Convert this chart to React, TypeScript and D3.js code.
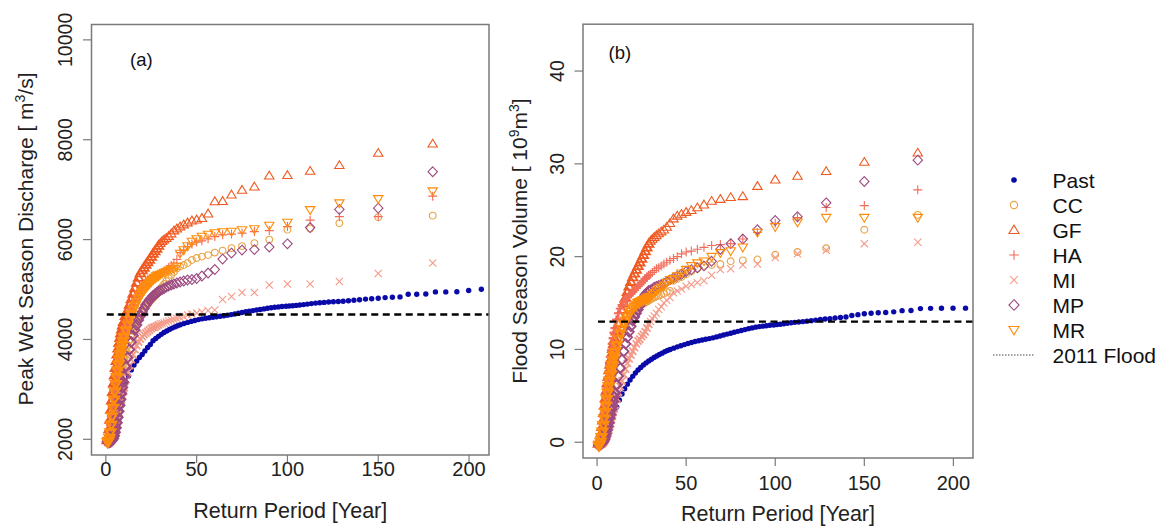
import React, { useRef, useEffect } from 'react';
import * as d3 from 'd3';

const W = 1167;
const H = 526;
const FONT = '"Liberation Sans", Arial, Helvetica, sans-serif';

// return periods [year] of the future scenario points (same plotting positions for all six)
const futurePeriods = [
	180, 150, 128.6, 112.5, 100, 90, 81.8, 75, 69.2, 64.3,
	60, 56.3, 52.9, 50, 47.4, 45, 42.9, 40.9, 39.1, 37.5,
	36, 34.6, 33.3, 32.1, 31, 30, 29, 28, 27, 26,
	25, 24, 23, 22, 21, 20, 19, 18, 17, 16,
	15, 14, 13, 12, 11, 10, 9.5, 9, 8.5, 8,
	7.5, 7, 6.5, 6, 5.5, 5, 4.5, 4, 3.5, 3,
	2.5, 2, 1.5, 1,
];

// return periods [year] of the past record (lowest part is hidden under the scenarios)
const pastPeriods = [
	206.8, 199.8, 193.3, 187.2, 181.5, 176.2, 171.2, 166.5, 162, 157.8,
	153.8, 150, 146.4, 143, 139.7, 136.6, 133.6, 130.7, 128, 125.3,
	122.7, 120.2, 117.8, 115.5, 113.2, 111, 108.9, 106.8, 104.8, 102.9,
	101, 99.2, 97, 95, 93, 91, 89, 87, 85, 83,
	81, 79, 77, 75, 73, 71, 69, 67, 65, 63,
	61, 59, 57, 55, 53, 51, 49, 47, 45, 43,
	41, 39.5, 38, 36.5, 35, 33.5, 32, 30.5, 29, 27.5,
	26, 24.5, 23, 21.5, 20, 18.5, 17, 15.5, 14, 12.5,
	11,
];

// (a) peak wet season discharge [m3/s]
const pastDischarge = [
	5005, 4980, 4955, 4953, 4953, 4910, 4906, 4906, 4852, 4845,
	4838, 4825, 4815, 4808, 4795, 4785, 4775, 4765, 4760, 4755,
	4750, 4742, 4735, 4728, 4718, 4708, 4698, 4690, 4682, 4675,
	4670, 4666, 4660, 4652, 4644, 4635, 4625, 4612, 4600, 4590,
	4578, 4567, 4555, 4540, 4525, 4510, 4498, 4487, 4476, 4465,
	4455, 4445, 4435, 4425, 4413, 4398, 4380, 4362, 4342, 4320,
	4295, 4275, 4252, 4228, 4200, 4170, 4138, 4102, 4062, 4020,
	3975, 3900, 3840, 3770, 3700, 3640, 3570, 3490, 3390, 3270,
	3130,
];
const ccDischarge = [
	6480, 6450, 6330, 6220, 6200, 6000, 5930, 5870, 5830, 5780,
	5740, 5690, 5660, 5630, 5590, 5530, 5490, 5460, 5420, 5350,
	5290, 5230, 5170, 5110, 5060, 5010, 4960, 4920, 4880, 4840,
	4800, 4760, 4710, 4660, 4600, 4540, 4480, 4410, 4340, 4260,
	4180, 4090, 3990, 3880, 3760, 3630, 3560, 3480, 3400, 3320,
	3230, 3140, 3040, 2930, 2820, 2700, 2580, 2450, 2330, 2210,
	2100, 2020, 1970, 1950,
];
const gfDischarge = [
	7920, 7735, 7490, 7375, 7290, 7280, 7060, 6995, 6900, 6770,
	6765, 6520, 6430, 6400, 6380, 6340, 6300, 6260, 6220, 6180,
	6120, 6070, 6030, 6000, 5970, 5930, 5880, 5820, 5770, 5720,
	5660, 5600, 5550, 5500, 5440, 5390, 5330, 5240, 5140, 5030,
	4920, 4810, 4700, 4590, 4480, 4360, 4290, 4210, 4130, 4040,
	3940, 3830, 3710, 3580, 3440, 3290, 3130, 2960, 2790, 2600,
	2400, 2210, 2060, 1990,
];
const haDischarge = [
	6870, 6460, 6460, 6390, 6260, 6180, 6160, 6130, 6110, 6095,
	6060, 6015, 5975, 5950, 5910, 5860, 5790, 5740, 5600, 5530,
	5480, 5440, 5400, 5370, 5340, 5320, 5300, 5280, 5260, 5240,
	5220, 5200, 5180, 5150, 5100, 5050, 4990, 4930, 4860, 4780,
	4690, 4600, 4500, 4390, 4270, 4140, 4070, 3990, 3910, 3820,
	3730, 3630, 3520, 3400, 3270, 3130, 2980, 2820, 2650, 2470,
	2290, 2120, 2020, 1980,
];
const miDischarge = [
	5530, 5320, 5160, 5110, 5110, 5090, 4940, 4940, 4860, 4800,
	4590, 4580, 4550, 4530, 4510, 4490, 4460, 4440, 4420, 4400,
	4385, 4370, 4350, 4330, 4320, 4310, 4290, 4270, 4250, 4240,
	4220, 4190, 4160, 4130, 4100, 4060, 4010, 3950, 3880, 3800,
	3700, 3600, 3480, 3340, 3190, 3030, 2950, 2870, 2790, 2710,
	2620, 2530, 2440, 2350, 2260, 2180, 2110, 2050, 2010, 1980,
	1960, 1950, 1940, 1940,
];
const mpDischarge = [
	7360, 6630, 6605, 6240, 5915, 5850, 5800, 5790, 5730, 5610,
	5400, 5330, 5270, 5220, 5200, 5190, 5170, 5150, 5130, 5110,
	5090, 5070, 5050, 5020, 5000, 4980, 4960, 4930, 4900, 4870,
	4830, 4790, 4740, 4690, 4620, 4550, 4470, 4390, 4290, 4190,
	4080, 3950, 3800, 3640, 3460, 3260, 3150, 3040, 2920, 2800,
	2680, 2560, 2440, 2330, 2230, 2140, 2070, 2020, 1990, 1970,
	1960, 1950, 1950, 1950,
];
const mrDischarge = [
	6970, 6815, 6730, 6595, 6340, 6280, 6210, 6190, 6160, 6150,
	6130, 6100, 6060, 6010, 5960, 5870, 5790, 5720, 5460, 5420,
	5400, 5380, 5360, 5340, 5320, 5300, 5280, 5260, 5230, 5200,
	5160, 5120, 5080, 5040, 4990, 4940, 4880, 4820, 4750, 4670,
	4590, 4500, 4400, 4290, 4170, 4040, 3960, 3880, 3790, 3700,
	3600, 3490, 3370, 3240, 3100, 2950, 2790, 2620, 2450, 2280,
	2130, 2020, 1960, 1940,
];

// (b) flood season volume [10^9 m3]
const pastVolume = [
	14.45, 14.45, 14.44, 14.43, 14.4, 14.2, 14.18, 14.05, 13.98, 13.95,
	13.9, 13.85, 13.75, 13.65, 13.5, 13.45, 13.38, 13.32, 13.28, 13.22,
	13.16, 13.1, 13.05, 13.0, 12.96, 12.92, 12.87, 12.82, 12.77, 12.72,
	12.68, 12.64, 12.6, 12.56, 12.51, 12.46, 12.4, 12.32, 12.24, 12.14,
	12.04, 11.95, 11.85, 11.75, 11.65, 11.55, 11.45, 11.35, 11.25, 11.17,
	11.1, 11.02, 10.94, 10.85, 10.75, 10.64, 10.52, 10.4, 10.28, 10.14,
	10.0, 9.88, 9.76, 9.6, 9.46, 9.3, 9.13, 8.95, 8.75, 8.55,
	8.32, 8.06, 7.78, 7.46, 7.1, 6.7, 6.26, 5.76, 5.2, 4.55,
	3.8,
];
const ccVolume = [
	24.5, 22.9, 20.9, 20.5, 20.2, 19.7, 19.6, 19.5, 19.2, 19.1,
	19.0, 18.7, 18.4, 18.1, 17.8, 17.6, 17.4, 16.3, 16.2, 16.0,
	15.9, 15.8, 15.7, 15.6, 15.5, 15.4, 15.3, 15.2, 15.1, 15.0,
	14.9, 14.8, 14.6, 14.4, 14.2, 14.0, 13.7, 13.4, 13.1, 12.7,
	12.2, 11.7, 11.1, 10.4, 9.6, 8.8, 8.3, 7.8, 7.3, 6.7,
	6.1, 5.5, 4.8, 4.1, 3.4, 2.7, 2.0, 1.4, 0.8, 0.3,
	0.0, -0.2, -0.3, -0.3,
];
const gfVolume = [
	31.2, 30.2, 29.2, 28.7, 28.3, 27.6, 26.5, 26.4, 26.2, 26.0,
	25.6, 25.3, 25.0, 24.8, 24.6, 24.4, 24.1, 23.6, 23.2, 22.9,
	22.7, 22.5, 22.3, 22.1, 21.9, 21.7, 21.4, 21.0, 20.6, 20.2,
	19.8, 19.4, 19.0, 18.6, 18.2, 17.8, 17.3, 16.8, 16.2, 15.6,
	15.0, 14.3, 13.6, 12.8, 12.0, 11.1, 10.6, 10.1, 9.6, 9.0,
	8.4, 7.8, 7.1, 6.4, 5.6, 4.8, 4.0, 3.2, 2.4, 1.7,
	1.0, 0.4, 0.0, -0.1,
];
const haVolume = [
	27.2, 25.5, 25.3, 24.2, 23.6, 22.6, 21.9, 21.4, 21.3, 21.2,
	21.0, 20.8, 20.6, 20.5, 20.3, 20.0, 19.8, 19.6, 19.4, 19.2,
	19.0, 18.8, 18.7, 18.5, 18.3, 18.1, 18.0, 17.8, 17.6, 17.4,
	17.2, 17.0, 16.8, 16.6, 16.4, 16.2, 16.0, 15.8, 15.6, 15.4,
	15.1, 14.8, 14.4, 13.9, 13.2, 12.3, 11.8, 11.2, 10.6, 9.9,
	9.2, 8.4, 7.6, 6.7, 5.8, 4.9, 4.0, 3.1, 2.2, 1.4,
	0.7, 0.2, -0.1, -0.2,
];
const miVolume = [
	21.55, 21.4, 20.7, 20.3, 19.9, 19.2, 19.1, 18.7, 18.6, 18.0,
	17.4, 17.2, 17.0, 16.8, 16.5, 16.3, 16.1, 15.6, 15.3, 15.0,
	14.6, 14.3, 13.9, 13.6, 13.3, 13.0, 12.7, 12.3, 11.9, 11.6,
	11.4, 11.1, 10.9, 10.6, 10.2, 9.8, 9.4, 9.0, 8.5, 7.9,
	7.3, 6.6, 6.0, 5.4, 4.7, 4.0, 3.6, 3.2, 2.8, 2.4,
	2.0, 1.7, 1.3, 1.0, 0.7, 0.5, 0.3, 0.1, 0.0, -0.1,
	-0.2, -0.2, -0.3, -0.3,
];
const mpVolume = [
	30.4, 28.1, 25.8, 24.3, 23.9, 22.9, 21.9, 21.4, 20.8, 19.5,
	19.0, 18.8, 18.6, 18.4, 18.1, 17.9, 17.7, 17.5, 17.3, 17.1,
	17.0, 16.9, 16.8, 16.7, 16.5, 16.4, 16.3, 16.1, 15.9, 15.6,
	15.2, 14.7, 14.3, 13.9, 13.5, 13.1, 12.5, 11.9, 11.3, 10.6,
	9.8, 8.9, 8.0, 7.1, 6.2, 5.3, 4.9, 4.4, 3.9, 3.5,
	3.0, 2.6, 2.1, 1.7, 1.3, 0.9, 0.6, 0.3, 0.1, 0.0,
	-0.1, -0.2, -0.2, -0.3,
];
const mrVolume = [
	24.2, 24.2, 24.2, 23.7, 23.2, 22.6, 21.0, 20.6, 20.4, 20.0,
	19.5, 19.3, 19.0, 18.6, 18.2, 17.9, 17.6, 17.5, 17.2, 16.9,
	16.7, 16.5, 16.3, 16.1, 15.9, 15.7, 15.6, 15.5, 15.4, 15.3,
	15.2, 15.1, 15.0, 14.8, 14.6, 14.4, 14.1, 13.8, 13.5, 13.1,
	12.7, 12.2, 11.7, 11.1, 10.4, 9.7, 9.3, 8.8, 8.3, 7.8,
	7.2, 6.6, 6.0, 5.3, 4.6, 3.9, 3.2, 2.5, 1.8, 1.1,
	0.5, 0.0, -0.3, -0.4,
];

const xTicks = [0, 50, 100, 150, 200];
const dischargeTicks = [2000, 4000, 6000, 8000, 10000];
const volumeTicks = [0, 10, 20, 30, 40];
const flood2011Discharge = 4500;
const flood2011Volume = 13;

const pastColor = '#0a0aa8';
const scenarios = [
	{ name: 'CC', shape: 'circle', color: '#e9a446' },
	{ name: 'GF', shape: 'up', color: '#ef5a22' },
	{ name: 'HA', shape: 'plus', color: '#f36c58' },
	{ name: 'MI', shape: 'cross', color: '#f49a88' },
	{ name: 'MP', shape: 'diamond', color: '#9c4a80' },
	{ name: 'MR', shape: 'down', color: '#ff8c0a' },
];

const dischargeByScenario: Record<string, number[]> = {
	CC: ccDischarge, GF: gfDischarge, HA: haDischarge,
	MI: miDischarge, MP: mpDischarge, MR: mrDischarge,
};
const volumeByScenario: Record<string, number[]> = {
	CC: ccVolume, GF: gfVolume, HA: haVolume,
	MI: miVolume, MP: mpVolume, MR: mrVolume,
};

// R-like plotting symbols
const markerPath = (shape: string, k = 1) => {
	switch (shape) {
		case 'circle': {
			const r = 3.4 * k;
			return `M${-r},0a${r},${r} 0 1,0 ${2 * r},0a${r},${r} 0 1,0 ${-2 * r},0`;
		}
		case 'up':
			return `M0,${-4.5 * k}L${4.7 * k},${3.3 * k}L${-4.7 * k},${3.3 * k}Z`;
		case 'down':
			return `M0,${4.5 * k}L${4.7 * k},${-3.3 * k}L${-4.7 * k},${-3.3 * k}Z`;
		case 'plus':
			return `M${-4.5 * k},0H${4.5 * k}M0,${-4.5 * k}V${4.5 * k}`;
		case 'cross':
			return `M${-3.6 * k},${-3.6 * k}L${3.6 * k},${3.6 * k}M${-3.6 * k},${3.6 * k}L${3.6 * k},${-3.6 * k}`;
		default:
			return `M0,${-4.9 * k}L${4.7 * k},0L0,${4.9 * k}L${-4.7 * k},0Z`;
	}
};

function drawPanel(svg: any, p: any) {
	const x = d3.scaleLinear().domain([-7.9, 211]).range([p.left, p.right]);
	const y = d3.scaleLinear().domain(p.yDomain).range([p.bottom, p.top]);
	const g = svg.append('g');
	const axisColor = '#7a7a7a';

	// past record first, scenarios on top of it
	g.append('g')
		.selectAll('circle')
		.data(pastPeriods.map((t, i) => [t, p.past[i]]))
		.join('circle')
		.attr('cx', (d: number[]) => x(d[0]))
		.attr('cy', (d: number[]) => y(d[1]))
		.attr('r', 2.7)
		.attr('fill', pastColor);

	scenarios.forEach((s) => {
		const vals = p.series[s.name];
		g.append('g')
			.selectAll('path')
			.data(futurePeriods.map((t, i) => [t, vals[i]]))
			.join('path')
			.attr('transform', (d: number[]) => `translate(${x(d[0])},${y(d[1])})`)
			.attr('d', markerPath(s.shape))
			.attr('fill', 'none')
			.attr('stroke', s.color)
			// the real record is much denser below ~30 years, heavier strokes stand in for that
			.attr('stroke-width', (d: number[]) => (d[0] < 12 ? 2.4 : d[0] < 30 ? 1.8 : 1.1));
	});

	// 2011 flood
	g.append('line')
		.attr('x1', x(0.5))
		.attr('x2', p.right)
		.attr('y1', y(p.flood))
		.attr('y2', y(p.flood))
		.attr('stroke', '#000')
		.attr('stroke-width', 2.4)
		.attr('stroke-dasharray', '7 4.5');

	// box
	g.append('rect')
		.attr('x', p.left)
		.attr('y', p.top)
		.attr('width', p.right - p.left)
		.attr('height', p.bottom - p.top)
		.attr('fill', 'none')
		.attr('stroke', axisColor)
		.attr('stroke-width', 1.5);

	// x axis
	xTicks.forEach((t) => {
		g.append('line')
			.attr('x1', x(t)).attr('x2', x(t))
			.attr('y1', p.bottom).attr('y2', p.bottom + 8)
			.attr('stroke', axisColor).attr('stroke-width', 1.2);
		g.append('text')
			.attr('x', x(t))
			.attr('y', p.xLabelBase)
			.attr('text-anchor', 'middle')
			.attr('font-size', 20)
			.attr('fill', '#222')
			.text(t);
	});

	// y axis
	p.yTicks.forEach((t: number) => {
		g.append('line')
			.attr('x1', p.left).attr('x2', p.left - 8.5)
			.attr('y1', y(t)).attr('y2', y(t))
			.attr('stroke', axisColor).attr('stroke-width', 1.2);
		g.append('text')
			.attr('transform', `translate(${p.yLabelBase},${y(t)}) rotate(-90)`)
			.attr('text-anchor', 'middle')
			.attr('font-size', 19.5)
			.attr('fill', '#222')
			.text(t);
	});

	g.append('text')
		.attr('x', (p.left + p.right) / 2)
		.attr('y', p.xTitleBase)
		.attr('text-anchor', 'middle')
		.attr('font-size', 21.5)
		.attr('fill', '#222')
		.text('Return Period [Year]');

	const yt = g.append('text')
		.attr('transform', `translate(${p.yTitleBase},${p.yTitleMid}) rotate(-90)`)
		.attr('text-anchor', 'middle')
		.attr('font-size', 21)
		.attr('fill', '#222');
	p.yTitle.forEach((part: any) => {
		yt.append('tspan')
			.attr('dy', part.dy)
			.attr('font-size', part.size || 21)
			.text(part.text);
	});

	g.append('text')
		.attr('x', p.tagX)
		.attr('y', p.tagY)
		.attr('font-size', 18.5)
		.attr('fill', '#111')
		.text(p.tag);
}

function drawLegend(svg: any) {
	const lg = svg.append('g');
	const mx = 1014;
	const tx = 1052.5;
	const rowY = (i: number) => 180 + 25 * i;

	lg.append('circle').attr('cx', mx).attr('cy', rowY(0)).attr('r', 2.8).attr('fill', pastColor);
	lg.append('text').attr('x', tx).attr('y', rowY(0)).attr('dy', '0.36em')
		.attr('font-size', 21).attr('fill', '#111').text('Past');

	scenarios.forEach((s, i) => {
		lg.append('path')
			.attr('transform', `translate(${mx},${rowY(i + 1)})`)
			.attr('d', markerPath(s.shape, 1.08))
			.attr('fill', 'none')
			.attr('stroke', s.color)
			.attr('stroke-width', 1.1);
		lg.append('text').attr('x', tx).attr('y', rowY(i + 1)).attr('dy', '0.36em')
			.attr('font-size', 21).attr('fill', '#111').text(s.name);
	});

	lg.append('line')
		.attr('x1', 993).attr('x2', 1034)
		.attr('y1', rowY(7)).attr('y2', rowY(7))
		.attr('stroke', '#444').attr('stroke-width', 1)
		.attr('stroke-dasharray', '1.5 1.5');
	lg.append('text').attr('x', tx).attr('y', rowY(7)).attr('dy', '0.36em')
		.attr('font-size', 21).attr('fill', '#111').text('2011 Flood');
}

export default function App() {
	const svgRef = useRef<SVGSVGElement>(null);

	useEffect(() => {
		const svg = d3.select(svgRef.current);
		svg.selectAll('*').remove();

		drawPanel(svg, {
			left: 91.5, right: 489, top: 24.5, bottom: 455,
			yDomain: [1686, 10308],
			yTicks: dischargeTicks,
			past: pastDischarge,
			series: dischargeByScenario,
			flood: flood2011Discharge,
			xLabelBase: 476, xTitleBase: 518,
			yLabelBase: 71.5, yTitleBase: 33, yTitleMid: 239,
			yTitle: [
				{ text: 'Peak Wet Season Discharge [ m', dy: 0 },
				{ text: '3', dy: -8, size: 14 },
				{ text: '/s]', dy: 8 },
			],
			tag: '(a)', tagX: 130, tagY: 66,
		});

		drawPanel(svg, {
			left: 583, right: 973, top: 24.2, bottom: 458,
			yDomain: [-1.7, 45.05],
			yTicks: volumeTicks,
			past: pastVolume,
			series: volumeByScenario,
			flood: flood2011Volume,
			xLabelBase: 489.5, xTitleBase: 521,
			yLabelBase: 563.5, yTitleBase: 527, yTitleMid: 241,
			yTitle: [
				{ text: 'Flood Season Volume [ 10', dy: 0 },
				{ text: '9', dy: -8, size: 14 },
				{ text: 'm', dy: 8 },
				{ text: '3', dy: -8, size: 14 },
				{ text: ']', dy: 8 },
			],
			tag: '(b)', tagX: 608.5, tagY: 58.5,
		});

		drawLegend(svg);
	}, []);

	return (
		<svg
			ref={svgRef}
			width={W}
			height={H}
			style={{ position: 'absolute', left: 0, top: 0, background: '#fff', fontFamily: FONT }}
		/>
	);
}
